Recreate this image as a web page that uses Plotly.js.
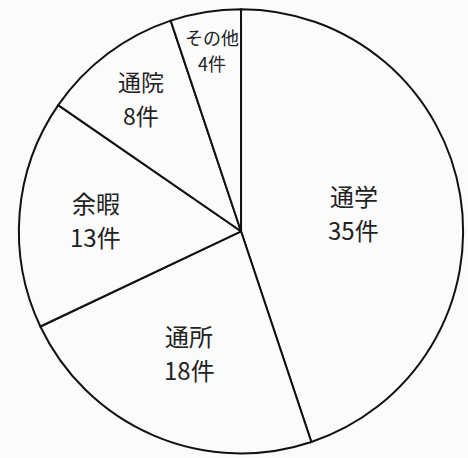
<!DOCTYPE html>
<html><head><meta charset="utf-8">
<script src="https://cdn.plot.ly/plotly-3.0.1.min.js"></script>
<style>html,body{margin:0;padding:0;background:#fbfbfb;}#chart{width:468px;height:458px;}</style>
</head><body><div id="chart"></div>
<script>
const categories = ["通学", "通所", "余暇", "通院", "その他"];
const counts = [35, 18, 13, 8, 4];
const unit = "件";

const W = 468, H = 458;
const dom = {x: [0.04, 0.99], y: [0.01, 0.98]};
const radiusFrac = [0.515, 0.595, 0.655, 0.75, 0.825];
const fontSizes = [24, 24, 24, 23, 18];
const halfGap = [17, 17, 17, 17, 13];

const cx = (dom.x[0] + dom.x[1]) / 2;
const cy = (dom.y[0] + dom.y[1]) / 2;
const R = Math.min((dom.x[1] - dom.x[0]) * W, (dom.y[1] - dom.y[0]) * H) / 2;
const total = counts.reduce((a, b) => a + b, 0);

const annotations = [];
let cum = 0;
counts.forEach((v, i) => {
  const mid = (cum + v / 2) / total * 2 * Math.PI;
  cum += v;
  const r = radiusFrac[i] * R;
  const x = cx + r * Math.sin(mid) / W;
  const y = cy + r * Math.cos(mid) / H;
  const font = {family: "Noto Sans CJK JP", size: fontSizes[i], color: "#222"};
  annotations.push({xref: "paper", yref: "paper", x: x, y: y, xanchor: "center", yanchor: "middle",
    text: categories[i], showarrow: false, yshift: halfGap[i], font: font});
  annotations.push({xref: "paper", yref: "paper", x: x, y: y, xanchor: "center", yanchor: "middle",
    text: counts[i] + unit, showarrow: false, yshift: -halfGap[i], font: font});
});

Plotly.newPlot("chart", [{
  type: "pie",
  values: counts,
  labels: categories,
  textinfo: "none",
  hoverinfo: "none",
  sort: false,
  direction: "clockwise",
  rotation: 0,
  marker: {colors: categories.map(() => "#fbfbfb"), line: {color: "#111", width: 2}},
  domain: dom,
  showlegend: false
}], {
  width: W, height: H,
  margin: {l: 0, r: 0, t: 0, b: 0},
  paper_bgcolor: "#fbfbfb",
  plot_bgcolor: "#fbfbfb",
  annotations: annotations
}, {staticPlot: true});
</script></body></html>
